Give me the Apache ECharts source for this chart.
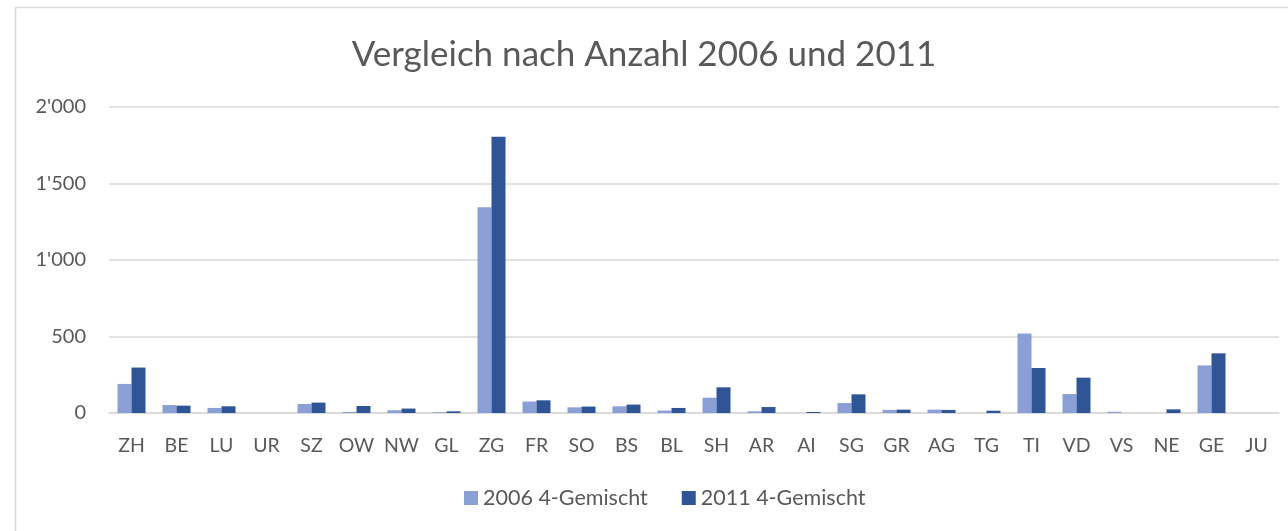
<!DOCTYPE html>
<html><head><meta charset="utf-8">
<script src="https://cdn.jsdelivr.net/npm/echarts@6/dist/echarts.min.js"></script>
<style>html,body{margin:0;padding:0;background:#fff}#c{width:1288px;height:531px}</style>
</head><body><div id="c"></div>
<script>
const categories = ['ZH','BE','LU','UR','SZ','OW','NW','GL','ZG','FR','SO','BS','BL','SH','AR','AI','SG','GR','AG','TG','TI','VD','VS','NE','GE','JU'];
const values2006 = [190,52,33,0,59,7,18,5,1345,75,37,44,16,100,11,0,65,20,22,0,520,124,8,0,311,0];
const values2011 = [297,48,44,0,68,46,29,11,1806,83,42,55,33,168,39,7,122,22,20,15,294,231,0,24,390,0];
const yTicks = [0,500,1000,1500,2000];
const seriesNames = ['2006 4-Gemischt','2011 4-Gemischt'];

const chart = echarts.init(document.getElementById('c'));
const fam = 'Lato, "Open Sans", sans-serif';
chart.setOption({
  animation:false,
  title:{text:'Vergleich nach Anzahl 2006 und 2011',left:'center',top:32,
    textStyle:{fontFamily:fam,fontSize:35,fontWeight:'normal',color:'#595959'}},
  legend:{bottom:17,left:459,itemWidth:14,itemHeight:14,itemGap:34,icon:'rect',itemStyle:{borderWidth:0},
    textStyle:{fontFamily:fam,fontSize:21.5,color:'#595959'}},
  grid:{left:109,right:9,top:107,bottom:118},
  graphic:[{type:'rect',shape:{x:15.5,y:7.5,width:1400,height:600},
    style:{fill:'none',stroke:'#d9d9d9',lineWidth:1.5},silent:true}],
  xAxis:{type:'category',data:categories,
    axisLine:{lineStyle:{color:'#d9d9d9',width:1.5}},axisTick:{show:false},
    axisLabel:{fontFamily:fam,fontSize:19.5,color:'#595959',margin:23,interval:0}},
  yAxis:{type:'value',min:yTicks[0],max:yTicks[yTicks.length-1],interval:500,
    axisLine:{show:false},axisTick:{show:false},
    splitLine:{lineStyle:{color:'#d9d9d9',width:1.5}},
    axisLabel:{fontFamily:fam,fontSize:20,color:'#595959',margin:23,
      formatter:v=>String(v).replace(/\B(?=(\d{3})+(?!\d))/g,"'")}},
  series:[
    {name:seriesNames[0],type:'bar',data:values2006,barWidth:14,barGap:'0%',
      itemStyle:{color:'#8A9FD5'}},
    {name:seriesNames[1],type:'bar',data:values2011,barWidth:14,
      itemStyle:{color:'#2F5597'}}
  ]
});
</script></body></html>
